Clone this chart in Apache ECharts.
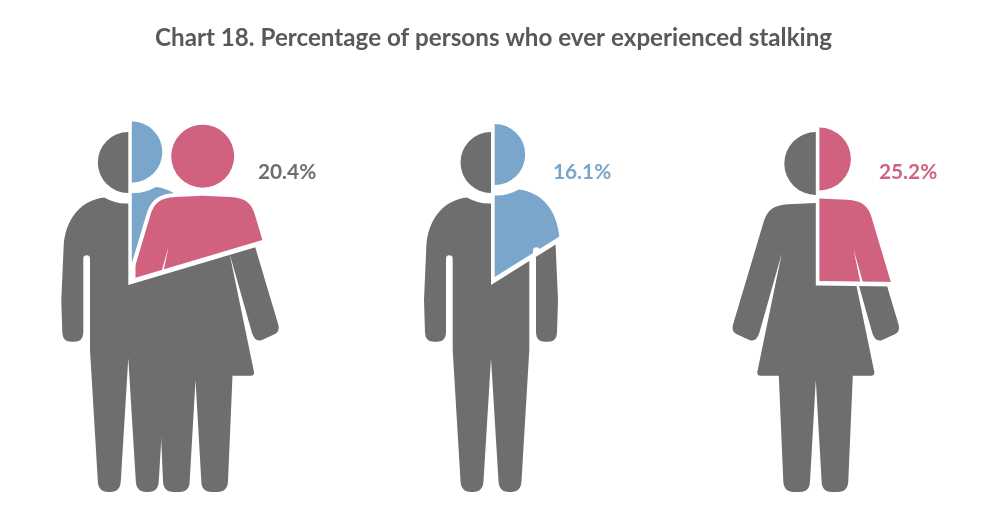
<!DOCTYPE html>
<html>
<head>
<meta charset="utf-8">
<style>html,body{margin:0;padding:0;background:#fff}#main{width:995px;height:523px}</style>
<script src="https://cdn.jsdelivr.net/npm/echarts@6/dist/echarts.min.js"></script>
</head>
<body>
<div id="main"></div>
<script>
// Survey results
const chartTitle = 'Chart 18. Percentage of persons who ever experienced stalking';
const groups = ['All persons', 'Men', 'Women'];
const stalkingPercent = [20.4, 16.1, 25.2];

// Palette
const GREY = '#6e6e6e';
const BLUE = '#7aa6cb';
const PINK = '#d0627f';

// Figure outlines, centred on x = 0, drawn on a page-sized y scale
const MAN_PATH =
  'M-30.5 162.5A30.5 30.5 0 1 1 30.5 162.5A30.5 30.5 0 1 1 -30.5 162.5Z' +
  'M0 203.5Q-13 204 -24 197.5C-45 200 -61 215 -64.5 243L-67 300L-66 333Q-65.5 341.7 -57 341.7L-54 341.7Q-45.5 341.7 -45 333' +
  'L-45 258.5A3.35 3.35 0 0 1 -38.3 258.5L-38.3 350L-30.5 481Q-30 492 -20 492L-18 492Q-8 492 -7.5 481L0 358.3' +
  'L7.5 481Q8 492 18 492L20 492Q30 492 30.5 481L38.3 350L38.3 258.5A3.35 3.35 0 0 1 45 258.5L45 333Q45.5 341.7 54 341.7' +
  'L57 341.7Q65.5 341.7 66 333L67 300L64.5 243C61 215 45 200 24 197.5Q13 204 0 203.5Z';
const WOMAN_PATH =
  'M-31.5 163.5A31.5 31.5 0 1 1 31.5 163.5A31.5 31.5 0 1 1 -31.5 163.5Z' +
  'M0 203L-27.5 204.3C-42 205 -49 210 -52.5 223L-82.9 325Q-84.5 331.5 -79 334.3L-66.5 340Q-59.5 342.5 -56.5 333L-34 253.3L-58.5 372' +
  'Q-59 375.7 -55 375.7L-37 375.7L-32.5 481Q-32 492 -22 492L-16 492Q-6 492 -5.8 481L0 380L5.8 481Q6 492 16 492L22 492' +
  'Q32 492 32.5 481L37 375.7L55 375.7Q59 375.7 58.5 372L34 253.3L56.5 333Q59.5 342.5 66.5 340L79 334.3Q84.5 331.5 82.9 325L52.5 223' +
  'C49 210 42 205 27.5 204.3Z';

// Where each group's figures sit, and how far the highlighted slice is pulled out
const figureLayout = [
  { pivotX: 128.3, pivotY: 285, labelX: 258, people: [
    { path: MAN_PATH, x: 128.3, dx: 3.5, dy: -10.5, color: BLUE },
    { path: WOMAN_PATH, x: 195.5, dx: 7.2, dy: -7.3, color: PINK, halo: true }
  ], labelColor: GREY },
  { pivotX: 491, pivotY: 285, labelX: 553, people: [
    { path: MAN_PATH, x: 491, dx: 3.7, dy: -8, color: BLUE }
  ], labelColor: BLUE },
  { pivotX: 815.8, pivotY: 285.5, labelX: 879, people: [
    { path: WOMAN_PATH, x: 815.8, dx: 3.6, dy: -4.5, color: PINK }
  ], labelColor: PINK }
];

// Wedge clockwise from 12 o'clock, one full turn being 100 %
function wedge(cx, cy, percent) {
  return {
    type: 'sector',
    shape: {
      cx, cy, r0: 0, r: 420,
      startAngle: -Math.PI / 2,
      endAngle: -Math.PI / 2 + (percent / 100) * Math.PI * 2,
      clockwise: true
    }
  };
}

function renderFigure(params, api) {
  const layout = figureLayout[api.value(0)];
  const percent = api.value(1);
  const children = [];

  layout.people.forEach(function (p) {
    const at = api.coord([p.x, 0]);
    children.push({ type: 'path', x: at[0], y: at[1], shape: { pathData: p.path }, style: { fill: GREY } });
  });

  // Clear the wedge out of the grey figures
  const pivot = api.coord([layout.pivotX, layout.pivotY]);
  const clearing = wedge(pivot[0], pivot[1], percent);
  clearing.shape.r = 210;
  clearing.style = { fill: '#fff' };
  children.push(clearing);

  // Coloured slices, moved outward from the pivot
  layout.people.forEach(function (p) {
    const at = api.coord([p.x + p.dx, p.dy]);
    const localX = layout.pivotX - p.x;
    if (p.halo) {
      children.push({
        type: 'path', x: at[0], y: at[1], shape: { pathData: p.path },
        style: { fill: '#fff', stroke: '#fff', lineWidth: 8, lineJoin: 'round' },
        clipPath: wedge(localX - 4.5, layout.pivotY + 3, percent)
      });
    }
    children.push({
      type: 'path', x: at[0], y: at[1], shape: { pathData: p.path },
      style: { fill: p.color },
      clipPath: wedge(localX, layout.pivotY, percent)
    });
  });

  const labelAt = api.coord([layout.labelX, 172.5]);
  children.push({
    type: 'text', x: labelAt[0], y: labelAt[1],
    style: {
      text: percent.toFixed(1) + '%',
      fill: layout.labelColor,
      font: 'bold 20.8px Lato, "Open Sans", sans-serif',
      textAlign: 'left', textVerticalAlign: 'middle'
    }
  });

  return { type: 'group', children };
}

const chart = echarts.init(document.getElementById('main'), null, { renderer: 'canvas' });
chart.setOption({
  animation: false,
  backgroundColor: '#fff',
  title: {
    text: chartTitle, left: 150, top: 21,
    textStyle: { color: '#595959', fontFamily: 'Lato, "Open Sans", sans-serif', fontWeight: 'bold', fontSize: 24.2 }
  },
  grid: { left: 0, right: 0, top: 0, bottom: 0 },
  xAxis: { type: 'value', min: 0, max: 995, show: false },
  yAxis: { type: 'value', min: 0, max: 523, inverse: true, show: false },
  series: [{
    type: 'custom',
    coordinateSystem: 'cartesian2d',
    clip: false,
    silent: true,
    renderItem: renderFigure,
    data: groups.map(function (g, i) { return { name: g, value: [i, stalkingPercent[i]] }; })
  }]
});
</script>
</body>
</html>
